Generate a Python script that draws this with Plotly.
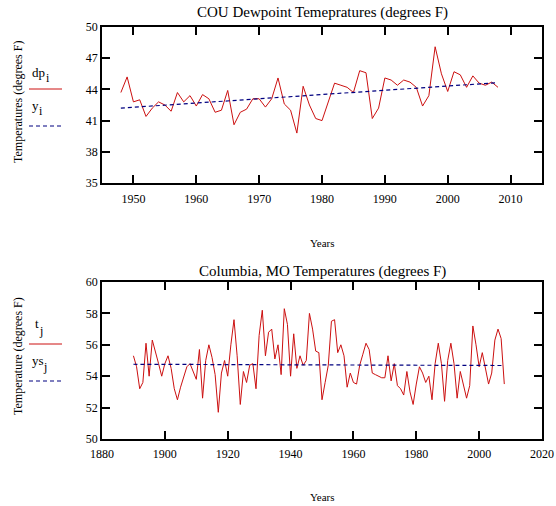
import plotly.graph_objects as go

# ---------------- data ----------------
dp_years = list(range(1948, 2009))
dp_values = [43.7, 45.2, 42.8, 43.0, 41.4, 42.2, 42.8, 42.5, 41.9, 43.7,
             42.8, 43.4, 42.4, 43.5, 43.1, 41.8, 42.0, 43.9, 40.6, 41.8,
             42.1, 43.1, 43.1, 42.3, 43.1, 45.1, 42.6, 42.0, 39.8, 44.3,
             42.5, 41.2, 41.0, 42.8, 44.6, 44.4, 44.2, 43.7, 45.8, 45.6,
             41.2, 42.2, 45.1, 44.9, 44.4, 44.9, 44.7, 44.2, 42.4, 43.4,
             48.1, 45.5, 43.8, 45.7, 45.4, 44.2, 45.3, 44.6, 44.4, 44.7,
             44.2]
dp_trend_years = [1948, 2008]
dp_trend_values = [42.2, 44.65]

t_years = list(range(1890, 2009))
t_values = [55.3, 54.6, 53.2, 53.6, 56.1, 54.0, 56.3, 55.6, 54.8, 54.0,
            54.8, 55.3, 54.5, 53.2, 52.5, 53.3, 53.9, 54.6, 54.8, 54.3,
            53.8, 55.7, 52.6, 55.0, 56.0, 55.2, 54.1, 51.7, 54.2, 55.0,
            54.0, 56.0, 57.6, 55.3, 52.2, 54.3, 53.6, 54.7, 54.8, 53.2,
            56.6, 58.2, 55.3, 56.8, 57.0, 55.1, 56.0, 54.1, 58.3, 57.3,
            54.0, 56.7, 54.5, 55.3, 54.7, 55.0, 58.0, 57.0, 55.6, 55.5,
            52.5, 53.6, 54.7, 57.5, 57.6, 55.5, 56.0, 55.3, 53.3, 54.2,
            53.6, 53.5, 54.7, 55.4, 56.1, 55.7, 54.2, 54.1, 54.0, 53.9,
            53.9, 55.3, 53.7, 54.8, 53.4, 53.2, 52.8, 54.3, 53.0, 52.2,
            53.5, 54.6, 54.2, 53.6, 54.0, 52.5, 54.8, 56.1, 54.8, 52.4,
            55.0, 56.1, 54.8, 52.6, 54.3, 53.4, 52.6, 53.4, 57.2, 56.0,
            54.6, 55.5, 54.6, 53.5, 54.2, 56.3, 57.0, 56.4, 53.5]
t_trend_years = [1890, 2008]
t_trend_values = [54.76, 54.68]

top_xticks = [1950, 1960, 1970, 1980, 1990, 2000, 2010]
top_yticks = [35, 38, 41, 44, 47, 50]
bot_xticks = [1880, 1900, 1920, 1940, 1960, 1980, 2000, 2020]
bot_yticks = [50, 52, 54, 56, 58, 60]

# ---------------- styling ----------------
W, H = 556, 506
FONT = "Liberation Serif"
RED = "#cc1010"
NAVY = "#000080"


def px(x):
    return x / W


def py(y):
    return 1 - y / H


fig = go.Figure()
fig.add_trace(go.Scatter(x=dp_years, y=dp_values, mode="lines",
                         line=dict(color=RED, width=1), xaxis="x", yaxis="y",
                         showlegend=False))
fig.add_trace(go.Scatter(x=dp_trend_years, y=dp_trend_values, mode="lines",
                         line=dict(color=NAVY, width=1.2, dash="4px,3px"),
                         xaxis="x", yaxis="y", showlegend=False))
fig.add_trace(go.Scatter(x=t_years, y=t_values, mode="lines",
                         line=dict(color=RED, width=1), xaxis="x2", yaxis="y2",
                         showlegend=False))
fig.add_trace(go.Scatter(x=t_trend_years, y=t_trend_values, mode="lines",
                         line=dict(color=NAVY, width=1.2, dash="4px,3px"),
                         xaxis="x2", yaxis="y2", showlegend=False))

axis_common = dict(showline=True, linecolor="black", linewidth=1.6,
                   mirror="ticks", ticks="inside", ticklen=8, tickwidth=1.6,
                   tickcolor="black", showgrid=False, zeroline=False,
                   automargin=False,
                   tickfont=dict(family=FONT, size=12, color="black"))

fig.update_layout(
    width=W, height=H, autosize=False,
    margin=dict(l=0, r=0, t=0, b=0, pad=0),
    paper_bgcolor="white", plot_bgcolor="white",
    xaxis=dict(domain=[px(102), px(542)], range=[1945, 2015],
               tickvals=top_xticks, anchor="y", ticklabelstandoff=4,
               **axis_common),
    yaxis=dict(domain=[py(183), py(27)], range=[35, 50],
               tickvals=top_yticks, anchor="x", **axis_common),
    xaxis2=dict(domain=[px(102), px(542)], range=[1880, 2020],
                tickvals=bot_xticks, anchor="y2", ticklabelstandoff=3,
                **axis_common),
    yaxis2=dict(domain=[py(439), py(282)], range=[50, 60],
                tickvals=bot_yticks, anchor="x2", **axis_common),
)

ann = []


def text(x, y, s, size=12, angle=0, xanchor="center"):
    ann.append(dict(x=px(x), y=py(y), xref="paper", yref="paper", text=s,
                    showarrow=False, textangle=angle, xanchor=xanchor,
                    yanchor="middle",
                    font=dict(family=FONT, size=size, color="black")))


text(322, 13, "COU Dewpoint Temepratures (degrees F)", size=15)
text(322, 271, "Columbia, MO Temperatures (degrees F)", size=15)
text(322, 243, "Years", size=11)
text(322, 497, "Years", size=11)
text(18, 102, "Temperatures (degrees F)", size=12, angle=-90)
text(18, 356, "Temperature (degrees F)", size=12, angle=-90)
# legend labels (base + subscript)
text(30, 72, "dp", size=13, xanchor="left")
text(44, 78, "i", size=12, xanchor="left")
text(30, 105, "y", size=13, xanchor="left")
text(37, 111, "i", size=12, xanchor="left")
text(33, 323, "t", size=13, xanchor="left")
text(37, 331, "j", size=12, xanchor="left")
text(30, 360, "ys", size=13, xanchor="left")
text(41, 367, "j", size=12, xanchor="left")
fig.update_layout(annotations=ann)

shapes = [
    dict(type="line", xref="paper", yref="paper", x0=px(29), x1=px(62),
         y0=py(89), y1=py(89), line=dict(color=RED, width=1)),
    dict(type="line", xref="paper", yref="paper", x0=px(29), x1=px(62),
         y0=py(126), y1=py(126), line=dict(color=NAVY, width=1.2, dash="4px,3px")),
    dict(type="line", xref="paper", yref="paper", x0=px(29), x1=px(62),
         y0=py(344), y1=py(344), line=dict(color=RED, width=1)),
    dict(type="line", xref="paper", yref="paper", x0=px(29), x1=px(62),
         y0=py(381), y1=py(381), line=dict(color=NAVY, width=1.2, dash="4px,3px")),
]
fig.update_layout(shapes=shapes)

fig.write_html("out.html",
               config={"displayModeBar": False},
               post_script="document.body.style.margin='0';"
                           "document.body.style.overflow='hidden';")
